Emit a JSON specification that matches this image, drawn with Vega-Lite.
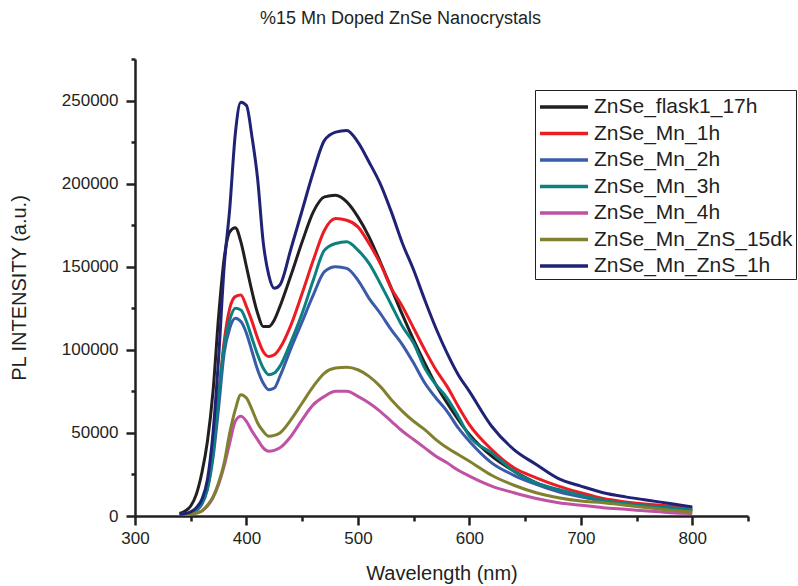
{
  "$schema": "https://vega.github.io/schema/vega-lite/v6.json",
  "width": 613,
  "height": 457,
  "autosize": {"type": "none"},
  "padding": {"left": 135, "top": 59, "right": 50, "bottom": 70},
  "background": "white",
  "config": {
    "font": "Liberation Sans",
    "view": {"stroke": null},
    "axis": {"grid": false, "domainColor": "#231f20", "domainWidth": 2.5, "tickColor": "#231f20", "tickWidth": 2.5, "labelColor": "#231f20", "titleColor": "#231f20", "labelFont": "Liberation Sans", "titleFont": "Liberation Sans", "labelFontSize": 17, "titleFontSize": 20, "titleFontWeight": "normal", "labelPadding": 4}
  },
  "title": {"text": "%15 Mn Doped ZnSe Nanocrystals", "fontSize": 18, "fontWeight": "normal", "color": "#231f20", "anchor": "middle", "dx": -41, "offset": 22},
  "data": {"values": [
{"s":"ZnSe_flask1_17h","w":340,"v":1500},{"s":"ZnSe_flask1_17h","w":345,"v":3000},{"s":"ZnSe_flask1_17h","w":350,"v":6000},{"s":"ZnSe_flask1_17h","w":355,"v":13000},{"s":"ZnSe_flask1_17h","w":360,"v":26000},{"s":"ZnSe_flask1_17h","w":365,"v":45000},{"s":"ZnSe_flask1_17h","w":370,"v":75000},{"s":"ZnSe_flask1_17h","w":375,"v":120000},{"s":"ZnSe_flask1_17h","w":380,"v":155000},{"s":"ZnSe_flask1_17h","w":385,"v":171000},{"s":"ZnSe_flask1_17h","w":390,"v":173500},{"s":"ZnSe_flask1_17h","w":395,"v":165000},{"s":"ZnSe_flask1_17h","w":400,"v":150000},{"s":"ZnSe_flask1_17h","w":405,"v":135000},{"s":"ZnSe_flask1_17h","w":410,"v":122000},{"s":"ZnSe_flask1_17h","w":415,"v":114000},{"s":"ZnSe_flask1_17h","w":420,"v":114000},{"s":"ZnSe_flask1_17h","w":425,"v":118000},{"s":"ZnSe_flask1_17h","w":430,"v":126000},{"s":"ZnSe_flask1_17h","w":440,"v":145000},{"s":"ZnSe_flask1_17h","w":450,"v":165000},{"s":"ZnSe_flask1_17h","w":460,"v":183000},{"s":"ZnSe_flask1_17h","w":470,"v":192000},{"s":"ZnSe_flask1_17h","w":480,"v":193000},{"s":"ZnSe_flask1_17h","w":490,"v":189000},{"s":"ZnSe_flask1_17h","w":500,"v":180000},{"s":"ZnSe_flask1_17h","w":510,"v":168000},{"s":"ZnSe_flask1_17h","w":520,"v":153000},{"s":"ZnSe_flask1_17h","w":530,"v":137000},{"s":"ZnSe_flask1_17h","w":540,"v":121000},{"s":"ZnSe_flask1_17h","w":550,"v":106000},{"s":"ZnSe_flask1_17h","w":560,"v":92000},{"s":"ZnSe_flask1_17h","w":570,"v":79000},{"s":"ZnSe_flask1_17h","w":580,"v":68000},{"s":"ZnSe_flask1_17h","w":590,"v":58000},{"s":"ZnSe_flask1_17h","w":600,"v":49000},{"s":"ZnSe_flask1_17h","w":620,"v":36000},{"s":"ZnSe_flask1_17h","w":640,"v":27000},{"s":"ZnSe_flask1_17h","w":660,"v":20000},{"s":"ZnSe_flask1_17h","w":680,"v":15500},{"s":"ZnSe_flask1_17h","w":700,"v":12000},{"s":"ZnSe_flask1_17h","w":720,"v":9000},{"s":"ZnSe_flask1_17h","w":740,"v":7000},{"s":"ZnSe_flask1_17h","w":760,"v":5500},{"s":"ZnSe_flask1_17h","w":780,"v":4500},{"s":"ZnSe_flask1_17h","w":800,"v":3500},
{"s":"ZnSe_Mn_1h","w":340,"v":800},{"s":"ZnSe_Mn_1h","w":345,"v":1200},{"s":"ZnSe_Mn_1h","w":350,"v":2000},{"s":"ZnSe_Mn_1h","w":355,"v":3500},{"s":"ZnSe_Mn_1h","w":360,"v":8000},{"s":"ZnSe_Mn_1h","w":365,"v":18000},{"s":"ZnSe_Mn_1h","w":370,"v":40000},{"s":"ZnSe_Mn_1h","w":375,"v":72000},{"s":"ZnSe_Mn_1h","w":380,"v":105000},{"s":"ZnSe_Mn_1h","w":385,"v":125000},{"s":"ZnSe_Mn_1h","w":390,"v":132000},{"s":"ZnSe_Mn_1h","w":395,"v":133000},{"s":"ZnSe_Mn_1h","w":400,"v":126000},{"s":"ZnSe_Mn_1h","w":405,"v":117000},{"s":"ZnSe_Mn_1h","w":410,"v":107000},{"s":"ZnSe_Mn_1h","w":415,"v":99000},{"s":"ZnSe_Mn_1h","w":420,"v":96000},{"s":"ZnSe_Mn_1h","w":425,"v":97000},{"s":"ZnSe_Mn_1h","w":430,"v":101000},{"s":"ZnSe_Mn_1h","w":440,"v":115000},{"s":"ZnSe_Mn_1h","w":450,"v":134000},{"s":"ZnSe_Mn_1h","w":460,"v":154000},{"s":"ZnSe_Mn_1h","w":470,"v":172000},{"s":"ZnSe_Mn_1h","w":480,"v":179000},{"s":"ZnSe_Mn_1h","w":490,"v":178000},{"s":"ZnSe_Mn_1h","w":500,"v":174000},{"s":"ZnSe_Mn_1h","w":510,"v":164000},{"s":"ZnSe_Mn_1h","w":520,"v":152000},{"s":"ZnSe_Mn_1h","w":530,"v":137000},{"s":"ZnSe_Mn_1h","w":540,"v":126000},{"s":"ZnSe_Mn_1h","w":550,"v":113000},{"s":"ZnSe_Mn_1h","w":560,"v":100000},{"s":"ZnSe_Mn_1h","w":570,"v":88000},{"s":"ZnSe_Mn_1h","w":580,"v":78000},{"s":"ZnSe_Mn_1h","w":590,"v":66000},{"s":"ZnSe_Mn_1h","w":600,"v":55000},{"s":"ZnSe_Mn_1h","w":620,"v":40000},{"s":"ZnSe_Mn_1h","w":640,"v":29000},{"s":"ZnSe_Mn_1h","w":660,"v":23000},{"s":"ZnSe_Mn_1h","w":680,"v":18000},{"s":"ZnSe_Mn_1h","w":700,"v":14000},{"s":"ZnSe_Mn_1h","w":720,"v":10500},{"s":"ZnSe_Mn_1h","w":740,"v":8500},{"s":"ZnSe_Mn_1h","w":760,"v":7000},{"s":"ZnSe_Mn_1h","w":780,"v":6000},{"s":"ZnSe_Mn_1h","w":800,"v":5000},
{"s":"ZnSe_Mn_2h","w":340,"v":800},{"s":"ZnSe_Mn_2h","w":345,"v":1200},{"s":"ZnSe_Mn_2h","w":350,"v":2000},{"s":"ZnSe_Mn_2h","w":355,"v":3500},{"s":"ZnSe_Mn_2h","w":360,"v":7000},{"s":"ZnSe_Mn_2h","w":365,"v":16000},{"s":"ZnSe_Mn_2h","w":370,"v":35000},{"s":"ZnSe_Mn_2h","w":375,"v":65000},{"s":"ZnSe_Mn_2h","w":380,"v":98000},{"s":"ZnSe_Mn_2h","w":385,"v":113000},{"s":"ZnSe_Mn_2h","w":390,"v":119000},{"s":"ZnSe_Mn_2h","w":395,"v":117000},{"s":"ZnSe_Mn_2h","w":400,"v":110000},{"s":"ZnSe_Mn_2h","w":405,"v":99000},{"s":"ZnSe_Mn_2h","w":410,"v":88000},{"s":"ZnSe_Mn_2h","w":415,"v":80000},{"s":"ZnSe_Mn_2h","w":420,"v":76000},{"s":"ZnSe_Mn_2h","w":425,"v":77000},{"s":"ZnSe_Mn_2h","w":430,"v":84000},{"s":"ZnSe_Mn_2h","w":440,"v":101000},{"s":"ZnSe_Mn_2h","w":450,"v":117000},{"s":"ZnSe_Mn_2h","w":460,"v":133000},{"s":"ZnSe_Mn_2h","w":470,"v":147000},{"s":"ZnSe_Mn_2h","w":480,"v":150000},{"s":"ZnSe_Mn_2h","w":490,"v":149000},{"s":"ZnSe_Mn_2h","w":500,"v":142000},{"s":"ZnSe_Mn_2h","w":510,"v":131000},{"s":"ZnSe_Mn_2h","w":520,"v":122000},{"s":"ZnSe_Mn_2h","w":530,"v":112000},{"s":"ZnSe_Mn_2h","w":540,"v":103000},{"s":"ZnSe_Mn_2h","w":550,"v":92000},{"s":"ZnSe_Mn_2h","w":560,"v":80000},{"s":"ZnSe_Mn_2h","w":570,"v":71000},{"s":"ZnSe_Mn_2h","w":580,"v":63000},{"s":"ZnSe_Mn_2h","w":590,"v":53000},{"s":"ZnSe_Mn_2h","w":600,"v":45000},{"s":"ZnSe_Mn_2h","w":620,"v":32000},{"s":"ZnSe_Mn_2h","w":640,"v":24500},{"s":"ZnSe_Mn_2h","w":660,"v":19000},{"s":"ZnSe_Mn_2h","w":680,"v":14500},{"s":"ZnSe_Mn_2h","w":700,"v":11500},{"s":"ZnSe_Mn_2h","w":720,"v":9000},{"s":"ZnSe_Mn_2h","w":740,"v":7000},{"s":"ZnSe_Mn_2h","w":760,"v":5500},{"s":"ZnSe_Mn_2h","w":780,"v":4500},{"s":"ZnSe_Mn_2h","w":800,"v":3500},
{"s":"ZnSe_Mn_3h","w":340,"v":800},{"s":"ZnSe_Mn_3h","w":345,"v":1200},{"s":"ZnSe_Mn_3h","w":350,"v":2000},{"s":"ZnSe_Mn_3h","w":355,"v":3600},{"s":"ZnSe_Mn_3h","w":360,"v":8000},{"s":"ZnSe_Mn_3h","w":365,"v":17000},{"s":"ZnSe_Mn_3h","w":370,"v":38000},{"s":"ZnSe_Mn_3h","w":375,"v":72000},{"s":"ZnSe_Mn_3h","w":380,"v":102000},{"s":"ZnSe_Mn_3h","w":385,"v":118000},{"s":"ZnSe_Mn_3h","w":390,"v":125000},{"s":"ZnSe_Mn_3h","w":395,"v":124000},{"s":"ZnSe_Mn_3h","w":400,"v":117000},{"s":"ZnSe_Mn_3h","w":405,"v":107000},{"s":"ZnSe_Mn_3h","w":410,"v":97000},{"s":"ZnSe_Mn_3h","w":415,"v":89000},{"s":"ZnSe_Mn_3h","w":420,"v":85000},{"s":"ZnSe_Mn_3h","w":425,"v":86000},{"s":"ZnSe_Mn_3h","w":430,"v":90000},{"s":"ZnSe_Mn_3h","w":440,"v":105000},{"s":"ZnSe_Mn_3h","w":450,"v":122000},{"s":"ZnSe_Mn_3h","w":460,"v":142000},{"s":"ZnSe_Mn_3h","w":470,"v":160000},{"s":"ZnSe_Mn_3h","w":480,"v":164000},{"s":"ZnSe_Mn_3h","w":490,"v":165000},{"s":"ZnSe_Mn_3h","w":500,"v":160000},{"s":"ZnSe_Mn_3h","w":510,"v":152000},{"s":"ZnSe_Mn_3h","w":520,"v":140000},{"s":"ZnSe_Mn_3h","w":530,"v":127000},{"s":"ZnSe_Mn_3h","w":540,"v":114000},{"s":"ZnSe_Mn_3h","w":550,"v":104000},{"s":"ZnSe_Mn_3h","w":560,"v":89000},{"s":"ZnSe_Mn_3h","w":570,"v":79000},{"s":"ZnSe_Mn_3h","w":580,"v":71000},{"s":"ZnSe_Mn_3h","w":590,"v":60000},{"s":"ZnSe_Mn_3h","w":600,"v":48000},{"s":"ZnSe_Mn_3h","w":620,"v":38000},{"s":"ZnSe_Mn_3h","w":640,"v":27000},{"s":"ZnSe_Mn_3h","w":660,"v":20000},{"s":"ZnSe_Mn_3h","w":680,"v":16000},{"s":"ZnSe_Mn_3h","w":700,"v":12500},{"s":"ZnSe_Mn_3h","w":720,"v":9500},{"s":"ZnSe_Mn_3h","w":740,"v":7500},{"s":"ZnSe_Mn_3h","w":760,"v":6000},{"s":"ZnSe_Mn_3h","w":780,"v":5000},{"s":"ZnSe_Mn_3h","w":800,"v":4000},
{"s":"ZnSe_Mn_4h","w":340,"v":500},{"s":"ZnSe_Mn_4h","w":345,"v":800},{"s":"ZnSe_Mn_4h","w":350,"v":1200},{"s":"ZnSe_Mn_4h","w":355,"v":1800},{"s":"ZnSe_Mn_4h","w":360,"v":3000},{"s":"ZnSe_Mn_4h","w":365,"v":6000},{"s":"ZnSe_Mn_4h","w":370,"v":11000},{"s":"ZnSe_Mn_4h","w":375,"v":19000},{"s":"ZnSe_Mn_4h","w":380,"v":30000},{"s":"ZnSe_Mn_4h","w":385,"v":44000},{"s":"ZnSe_Mn_4h","w":390,"v":57000},{"s":"ZnSe_Mn_4h","w":395,"v":60000},{"s":"ZnSe_Mn_4h","w":400,"v":57000},{"s":"ZnSe_Mn_4h","w":405,"v":51000},{"s":"ZnSe_Mn_4h","w":410,"v":46000},{"s":"ZnSe_Mn_4h","w":415,"v":41000},{"s":"ZnSe_Mn_4h","w":420,"v":39000},{"s":"ZnSe_Mn_4h","w":425,"v":39500},{"s":"ZnSe_Mn_4h","w":430,"v":41000},{"s":"ZnSe_Mn_4h","w":440,"v":48000},{"s":"ZnSe_Mn_4h","w":450,"v":58000},{"s":"ZnSe_Mn_4h","w":460,"v":67000},{"s":"ZnSe_Mn_4h","w":470,"v":72000},{"s":"ZnSe_Mn_4h","w":480,"v":75000},{"s":"ZnSe_Mn_4h","w":490,"v":75000},{"s":"ZnSe_Mn_4h","w":500,"v":72000},{"s":"ZnSe_Mn_4h","w":510,"v":68000},{"s":"ZnSe_Mn_4h","w":520,"v":63000},{"s":"ZnSe_Mn_4h","w":530,"v":57000},{"s":"ZnSe_Mn_4h","w":540,"v":51000},{"s":"ZnSe_Mn_4h","w":550,"v":46000},{"s":"ZnSe_Mn_4h","w":560,"v":41000},{"s":"ZnSe_Mn_4h","w":570,"v":36000},{"s":"ZnSe_Mn_4h","w":580,"v":32000},{"s":"ZnSe_Mn_4h","w":590,"v":27500},{"s":"ZnSe_Mn_4h","w":600,"v":24000},{"s":"ZnSe_Mn_4h","w":620,"v":18000},{"s":"ZnSe_Mn_4h","w":640,"v":14000},{"s":"ZnSe_Mn_4h","w":660,"v":10500},{"s":"ZnSe_Mn_4h","w":680,"v":8000},{"s":"ZnSe_Mn_4h","w":700,"v":6500},{"s":"ZnSe_Mn_4h","w":720,"v":5000},{"s":"ZnSe_Mn_4h","w":740,"v":4000},{"s":"ZnSe_Mn_4h","w":760,"v":3000},{"s":"ZnSe_Mn_4h","w":780,"v":2000},{"s":"ZnSe_Mn_4h","w":800,"v":1500},
{"s":"ZnSe_Mn_ZnS_15dk","w":340,"v":500},{"s":"ZnSe_Mn_ZnS_15dk","w":345,"v":800},{"s":"ZnSe_Mn_ZnS_15dk","w":350,"v":1200},{"s":"ZnSe_Mn_ZnS_15dk","w":355,"v":1800},{"s":"ZnSe_Mn_ZnS_15dk","w":360,"v":3000},{"s":"ZnSe_Mn_ZnS_15dk","w":365,"v":6500},{"s":"ZnSe_Mn_ZnS_15dk","w":370,"v":11500},{"s":"ZnSe_Mn_ZnS_15dk","w":375,"v":20000},{"s":"ZnSe_Mn_ZnS_15dk","w":380,"v":32000},{"s":"ZnSe_Mn_ZnS_15dk","w":385,"v":50000},{"s":"ZnSe_Mn_ZnS_15dk","w":390,"v":64000},{"s":"ZnSe_Mn_ZnS_15dk","w":395,"v":73000},{"s":"ZnSe_Mn_ZnS_15dk","w":400,"v":71000},{"s":"ZnSe_Mn_ZnS_15dk","w":405,"v":64000},{"s":"ZnSe_Mn_ZnS_15dk","w":410,"v":56000},{"s":"ZnSe_Mn_ZnS_15dk","w":415,"v":51000},{"s":"ZnSe_Mn_ZnS_15dk","w":420,"v":48000},{"s":"ZnSe_Mn_ZnS_15dk","w":425,"v":48500},{"s":"ZnSe_Mn_ZnS_15dk","w":430,"v":50000},{"s":"ZnSe_Mn_ZnS_15dk","w":440,"v":58000},{"s":"ZnSe_Mn_ZnS_15dk","w":450,"v":68000},{"s":"ZnSe_Mn_ZnS_15dk","w":460,"v":78000},{"s":"ZnSe_Mn_ZnS_15dk","w":470,"v":86000},{"s":"ZnSe_Mn_ZnS_15dk","w":480,"v":89000},{"s":"ZnSe_Mn_ZnS_15dk","w":490,"v":89500},{"s":"ZnSe_Mn_ZnS_15dk","w":500,"v":88000},{"s":"ZnSe_Mn_ZnS_15dk","w":510,"v":84000},{"s":"ZnSe_Mn_ZnS_15dk","w":520,"v":78000},{"s":"ZnSe_Mn_ZnS_15dk","w":530,"v":70000},{"s":"ZnSe_Mn_ZnS_15dk","w":540,"v":63000},{"s":"ZnSe_Mn_ZnS_15dk","w":550,"v":57000},{"s":"ZnSe_Mn_ZnS_15dk","w":560,"v":52000},{"s":"ZnSe_Mn_ZnS_15dk","w":570,"v":46000},{"s":"ZnSe_Mn_ZnS_15dk","w":580,"v":41000},{"s":"ZnSe_Mn_ZnS_15dk","w":590,"v":37000},{"s":"ZnSe_Mn_ZnS_15dk","w":600,"v":33000},{"s":"ZnSe_Mn_ZnS_15dk","w":620,"v":24500},{"s":"ZnSe_Mn_ZnS_15dk","w":640,"v":18500},{"s":"ZnSe_Mn_ZnS_15dk","w":660,"v":14000},{"s":"ZnSe_Mn_ZnS_15dk","w":680,"v":11000},{"s":"ZnSe_Mn_ZnS_15dk","w":700,"v":9000},{"s":"ZnSe_Mn_ZnS_15dk","w":720,"v":8000},{"s":"ZnSe_Mn_ZnS_15dk","w":740,"v":6500},{"s":"ZnSe_Mn_ZnS_15dk","w":760,"v":5000},{"s":"ZnSe_Mn_ZnS_15dk","w":780,"v":3500},{"s":"ZnSe_Mn_ZnS_15dk","w":800,"v":2500},
{"s":"ZnSe_Mn_ZnS_1h","w":340,"v":1000},{"s":"ZnSe_Mn_ZnS_1h","w":345,"v":1500},{"s":"ZnSe_Mn_ZnS_1h","w":350,"v":2500},{"s":"ZnSe_Mn_ZnS_1h","w":355,"v":5000},{"s":"ZnSe_Mn_ZnS_1h","w":360,"v":10000},{"s":"ZnSe_Mn_ZnS_1h","w":365,"v":22000},{"s":"ZnSe_Mn_ZnS_1h","w":370,"v":50000},{"s":"ZnSe_Mn_ZnS_1h","w":375,"v":95000},{"s":"ZnSe_Mn_ZnS_1h","w":380,"v":150000},{"s":"ZnSe_Mn_ZnS_1h","w":385,"v":185000},{"s":"ZnSe_Mn_ZnS_1h","w":390,"v":230000},{"s":"ZnSe_Mn_ZnS_1h","w":395,"v":249000},{"s":"ZnSe_Mn_ZnS_1h","w":400,"v":247000},{"s":"ZnSe_Mn_ZnS_1h","w":405,"v":228000},{"s":"ZnSe_Mn_ZnS_1h","w":410,"v":203000},{"s":"ZnSe_Mn_ZnS_1h","w":415,"v":165000},{"s":"ZnSe_Mn_ZnS_1h","w":420,"v":145000},{"s":"ZnSe_Mn_ZnS_1h","w":425,"v":137000},{"s":"ZnSe_Mn_ZnS_1h","w":430,"v":139000},{"s":"ZnSe_Mn_ZnS_1h","w":440,"v":161000},{"s":"ZnSe_Mn_ZnS_1h","w":450,"v":184000},{"s":"ZnSe_Mn_ZnS_1h","w":460,"v":207000},{"s":"ZnSe_Mn_ZnS_1h","w":470,"v":226000},{"s":"ZnSe_Mn_ZnS_1h","w":480,"v":231000},{"s":"ZnSe_Mn_ZnS_1h","w":490,"v":232000},{"s":"ZnSe_Mn_ZnS_1h","w":500,"v":225000},{"s":"ZnSe_Mn_ZnS_1h","w":510,"v":213000},{"s":"ZnSe_Mn_ZnS_1h","w":520,"v":200000},{"s":"ZnSe_Mn_ZnS_1h","w":530,"v":183000},{"s":"ZnSe_Mn_ZnS_1h","w":540,"v":164000},{"s":"ZnSe_Mn_ZnS_1h","w":550,"v":148000},{"s":"ZnSe_Mn_ZnS_1h","w":560,"v":130000},{"s":"ZnSe_Mn_ZnS_1h","w":570,"v":113000},{"s":"ZnSe_Mn_ZnS_1h","w":580,"v":98000},{"s":"ZnSe_Mn_ZnS_1h","w":590,"v":85000},{"s":"ZnSe_Mn_ZnS_1h","w":600,"v":75000},{"s":"ZnSe_Mn_ZnS_1h","w":620,"v":54000},{"s":"ZnSe_Mn_ZnS_1h","w":640,"v":40000},{"s":"ZnSe_Mn_ZnS_1h","w":660,"v":31000},{"s":"ZnSe_Mn_ZnS_1h","w":680,"v":22500},{"s":"ZnSe_Mn_ZnS_1h","w":700,"v":18000},{"s":"ZnSe_Mn_ZnS_1h","w":720,"v":14000},{"s":"ZnSe_Mn_ZnS_1h","w":740,"v":11500},{"s":"ZnSe_Mn_ZnS_1h","w":760,"v":9500},{"s":"ZnSe_Mn_ZnS_1h","w":780,"v":7500},{"s":"ZnSe_Mn_ZnS_1h","w":800,"v":5500}
  ]},
  "mark": {"type": "line", "strokeWidth": 3, "interpolate": "monotone", "clip": true},
  "encoding": {
    "x": {"field": "w", "type": "quantitative", "title": "Wavelength (nm)",
      "scale": {"domain": [300, 850], "nice": false, "zero": false},
      "axis": {"values": [300,350,400,450,500,550,600,650,700,750,800,850], "labelExpr": "datum.value % 100 === 0 && datum.value <= 800 ? datum.label : ''", "format": "d", "tickSize": {"condition": {"test": "datum.value % 100 === 0", "value": 9}, "value": 5}, "titlePadding": 17, "labelPadding": 5, "labelFlush": false, "labelOverlap": false}},
    "y": {"field": "v", "type": "quantitative", "title": "PL INTENSITY (a.u.)",
      "scale": {"domain": [0, 275000], "nice": false},
      "axis": {"values": [0,25000,50000,75000,100000,125000,150000,175000,200000,225000,250000,275000], "labelExpr": "datum.value % 50000 === 0 && datum.value <= 250000 ? datum.label : ''", "format": "d", "tickSize": {"condition": {"test": "datum.value % 50000 === 0", "value": 9}, "value": 4}, "titlePadding": 32, "labelPadding": 8, "labelFlush": false, "labelOverlap": false}},
    "color": {"field": "s", "type": "nominal", "title": null,
      "scale": {"domain": ["ZnSe_flask1_17h","ZnSe_Mn_1h","ZnSe_Mn_2h","ZnSe_Mn_3h","ZnSe_Mn_4h","ZnSe_Mn_ZnS_15dk","ZnSe_Mn_ZnS_1h"],
        "range": ["#231f20","#ed1c24","#3a5ba9","#0c8080","#c052a5","#80812f","#1f2275"]},
      "legend": {"orient": "none", "legendX": 400, "legendY": 31, "symbolType": "M-1,0H3", "symbolSize": 576, "symbolStrokeWidth": 3.5, "labelFontSize": 21, "labelColor": "#231f20", "labelFont": "Liberation Sans", "strokeColor": "#231f20", "fillColor": "white", "padding": 3, "rowPadding": 2.5, "labelOffset": 28, "labelLimit": 300}
    }
  }
}
